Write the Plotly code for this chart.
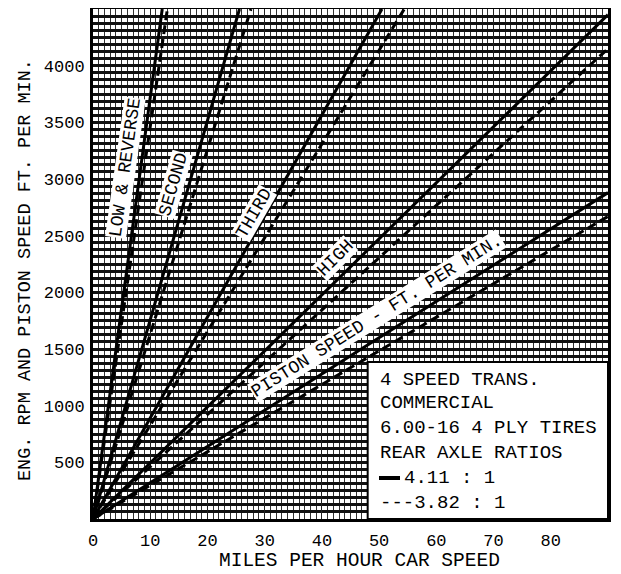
import plotly.graph_objects as go

# ---- data ----
x_ticks = [0, 10, 20, 30, 40, 50, 60, 70, 80]
y_ticks = [500, 1000, 1500, 2000, 2500, 3000, 3500, 4000]

gears = ["LOW & REVERSE", "SECOND", "THIRD", "HIGH", "PISTON SPEED - FT. PER MIN."]
# end points of the straight lines from the origin (mph, rpm)
solid_end_mph = [12.1, 25.6, 50.5, 90.0, 90.0]      # 4.11 : 1
solid_end_rpm = [4500, 4500, 4500, 4450, 2880]
dashed_end_mph = [13.0, 27.6, 54.4, 90.0, 90.0]     # 3.82 : 1
dashed_end_rpm = [4500, 4500, 4500, 4150, 2670]

legend_lines = ["4 SPEED TRANS.", "COMMERCIAL", "6.00-16 4 PLY TIRES",
                "REAR AXLE RATIOS", "4.11 : 1", "---3.82 : 1"]

FONT = "Liberation Mono"
W, H = 613, 566          # page body has an 8px margin
OFF = 8
L, R, T, B = 85, 13, 1, 55
PW, PH = W - L - R, H - T - B


def px(xs):
    return (xs - OFF - L) / PW


def py(ys):
    return (H - B - (ys - OFF)) / PH


fig = go.Figure()
for i, g in enumerate(gears):
    fig.add_trace(go.Scatter(x=[0, solid_end_mph[i]], y=[0, solid_end_rpm[i]],
                             mode="lines", line=dict(color="black", width=3),
                             name=g + " 4.11", showlegend=False, hoverinfo="skip"))
    fig.add_trace(go.Scatter(x=[0, dashed_end_mph[i]], y=[0, dashed_end_rpm[i]],
                             mode="lines", line=dict(color="black", width=3, dash="9px,5px"),
                             name=g + " 3.82", showlegend=False, hoverinfo="skip"))

# gear labels along the lines
label_pos = [(5.6, 3100, -82), (14.0, 2950, -74), (28.2, 2700, -60),
             (42.4, 2300, -45), (49.6, 1790, -32)]
for g, (lx, ly, ang) in zip(gears, label_pos):
    fig.add_annotation(x=lx, y=ly, text=g, textangle=ang, showarrow=False,
                       font=dict(family=FONT, size=18, color="black"),
                       bgcolor="white", borderpad=0)

# legend box
fig.add_shape(type="rect", xref="x", yref="y", x0=48.0, x1=90, y0=0, y1=1385,
              fillcolor="white", line=dict(color="black", width=2), layer="above")
leg_y = [380, 403, 428, 453, 478, 503]
for t, yy in zip(legend_lines, leg_y):
    xoff = 378 if not t.startswith("4.11") else 402
    fig.add_annotation(xref="paper", yref="paper", x=px(xoff), y=py(yy),
                       xanchor="left", yanchor="middle", text=t, showarrow=False,
                       font=dict(family=FONT, size=19, color="black"))
fig.add_shape(type="line", xref="paper", yref="paper",
              x0=px(379), x1=px(400), y0=py(478), y1=py(478),
              line=dict(color="black", width=4), layer="above")

# axis titles
fig.add_annotation(xref="paper", yref="paper", x=px(359), y=py(561),
                   xanchor="center", yanchor="middle", showarrow=False,
                   text="MILES PER HOUR CAR SPEED",
                   font=dict(family=FONT, size=19.5, color="black"))
fig.add_annotation(xref="paper", yref="paper", x=px(25), y=py(270),
                   xanchor="center", yanchor="middle", showarrow=False, textangle=-90,
                   text="ENG. RPM AND PISTON SPEED FT. PER MIN.",
                   font=dict(family=FONT, size=18.5, color="black"))

fig.update_layout(
    width=W, height=H,
    margin=dict(l=L, r=R, t=T, b=B, autoexpand=False),
    paper_bgcolor="white", plot_bgcolor="white",
    font=dict(family=FONT, size=17, color="black"),
    xaxis=dict(range=[0, 90], tickvals=x_ticks, ticktext=[str(v) for v in x_ticks],
               showgrid=True, gridcolor="#222", gridwidth=1.2,
               minor=dict(dtick=1, showgrid=True, gridcolor="#333", gridwidth=1.2),
               showline=True, linecolor="black", linewidth=3, mirror=True,
               ticks="", zeroline=False, ticklabelstandoff=4),
    yaxis=dict(range=[0, 4500], tickvals=y_ticks, ticktext=[str(v) for v in y_ticks],
               showgrid=True, gridcolor="#111", gridwidth=3,
               minor=dict(dtick=62.5, showgrid=True, gridcolor="#111", gridwidth=3),
               showline=True, linecolor="black", linewidth=3, mirror=True,
               ticks="", zeroline=False, ticklabelstandoff=2),
)

fig.write_html("out.html")
